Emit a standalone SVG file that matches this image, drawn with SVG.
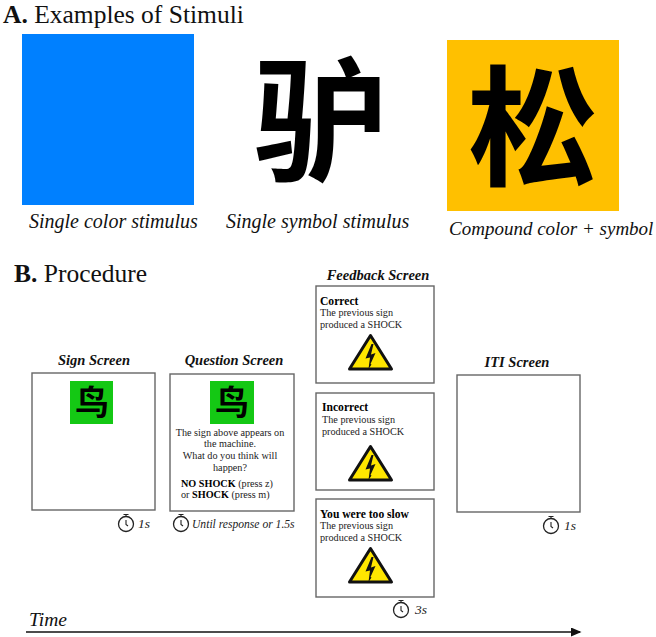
<svg xmlns="http://www.w3.org/2000/svg" xmlns:xlink="http://www.w3.org/1999/xlink" width="656" height="637" viewBox="0 0 656 637">
<style>
text{font-family:"Liberation Serif","Noto Sans CJK SC",serif;fill:#111}
.cjk{font-family:"Noto Sans CJK SC",sans-serif;font-weight:700;fill:#000;text-anchor:middle}
.head{font-size:25.500px}
.cap{font-size:20px;font-style:italic}
.title{font-size:14.500px;font-style:italic;font-weight:700;text-anchor:middle}
.box{fill:#fff;stroke:#666;stroke-width:1.400}
.body{font-size:10.200px;fill:#222}
.mid{text-anchor:middle}
.fb{font-size:11.600px;font-weight:700;fill:#000}
.t{font-size:13.500px;font-style:italic;fill:#222}
.conn{stroke:#111;stroke-width:1.500;fill:none}
</style>
<defs>
<g id="timer"><circle cx="0" cy="1" r="7.500" fill="#fff" stroke="#222" stroke-width="1.300"/><path d="M-2.500-8.500H2.500M0-8.500V-6.500M0-3V1.500L2 3" fill="none" stroke="#222" stroke-width="1.100"/></g>
<g id="bolt"><path d="M0-21.500 L21 12H-21Z" fill="#ffe600" stroke="#111" stroke-width="3" stroke-linejoin="round"/><path d="M1-13-5 1.500-0.500 0.500-2 12 1 7.500 0 7 5-4 0.500-2.500 3-13Z" fill="#111"/></g>
<marker id="arr" markerWidth="7" markerHeight="6" refX="6" refY="3" orient="auto"><path d="M0 0 7 3 0 6Z" fill="#111"/></marker>
</defs>

<g id="panel-a-heading"><text x="3" y="23" class="head"><tspan font-weight="700">A.</tspan> Examples of Stimuli</text></g>
<g id="stim-color"><rect x="22" y="34" width="172" height="171" fill="#0080ff"/><text x="29" y="228" class="cap">Single color stimulus</text></g>
<g id="stim-symbol"><text x="320" y="170" font-size="134" class="cjk">驴</text><text x="226" y="228" class="cap">Single symbol stimulus</text></g>
<g id="stim-compound"><rect x="447" y="40" width="172" height="171" fill="#ffc000"/><text x="533" y="175" font-size="130" class="cjk">松</text><text x="449" y="235" class="cap" style="font-size:19px">Compound color + symbol</text></g>

<g id="panel-b-heading"><text x="14" y="282" class="head"><tspan font-weight="700">B.</tspan> Procedure</text></g>

<g id="sign-screen"><text x="94" y="365" class="title">Sign Screen</text><rect x="32" y="373" width="123" height="137" class="box"/><rect x="70" y="381" width="43" height="43" fill="#14c814"/><text x="92" y="415" font-size="34" class="cjk">鸟</text><use xlink:href="#timer" href="#timer" x="126" y="523"/><text x="138" y="528" class="t">1s</text></g>

<g id="question-screen"><text x="234" y="365" class="title">Question Screen</text><rect x="170" y="374" width="124" height="137" class="box"/><rect x="210" y="381" width="44" height="43" fill="#14c814"/><text x="232" y="415" font-size="34" class="cjk">鸟</text>
<text class="body mid" x="230" y="436">The sign above appears on</text><text class="body mid" x="230" y="447">the machine.</text><text class="body mid" x="230" y="459">What do you think will</text><text class="body mid" x="230" y="471">happen?</text>
<text class="body" x="181" y="487"><tspan font-weight="700" fill="#000">NO SHOCK</tspan> (press z)</text><text class="body" x="181" y="498">or <tspan font-weight="700" fill="#000">SHOCK</tspan> (press m)</text>
<use xlink:href="#timer" href="#timer" x="181" y="523"/><text x="192" y="528" class="t" style="font-size:11.600px">Until response or 1.5s</text></g>

<g id="feedback-screen"><text x="378" y="280" class="title">Feedback Screen</text></g>
<g id="feedback-correct"><rect x="316" y="286" width="118" height="97" class="box"/><text x="320" y="305" class="fb">Correct</text><text x="320" y="316" class="body">The previous sign</text><text x="320" y="328" class="body">produced a SHOCK</text><use xlink:href="#bolt" href="#bolt" x="370.500" y="357"/></g>
<g id="feedback-incorrect"><rect x="316" y="393" width="118" height="97" class="box"/><text x="322" y="411" class="fb">Incorrect</text><text x="322" y="423" class="body">The previous sign</text><text x="322" y="435" class="body">produced a SHOCK</text><use xlink:href="#bolt" href="#bolt" x="370.500" y="468"/></g>
<g id="feedback-slow"><rect x="316" y="499" width="118" height="98" class="box"/><text x="320" y="518" class="fb">You were too slow</text><text x="320" y="529" class="body">The previous sign</text><text x="320" y="541" class="body">produced a SHOCK</text><use xlink:href="#bolt" href="#bolt" x="370.500" y="570"/><use xlink:href="#timer" href="#timer" x="401" y="609"/><text x="415" y="614" class="t">3s</text></g>

<g id="iti-screen"><text x="517" y="367" class="title">ITI Screen</text><rect x="457" y="375" width="123" height="137" class="box"/><use xlink:href="#timer" href="#timer" x="551" y="525"/><text x="564" y="530" class="t">1s</text></g>

<g id="time-label"><text x="29" y="626" font-size="19.500" font-style="italic">Time</text></g>
<g id="connectors"><line x1="26" y1="632" x2="580" y2="632" class="conn" marker-end="url(#arr)"/></g>
</svg>
